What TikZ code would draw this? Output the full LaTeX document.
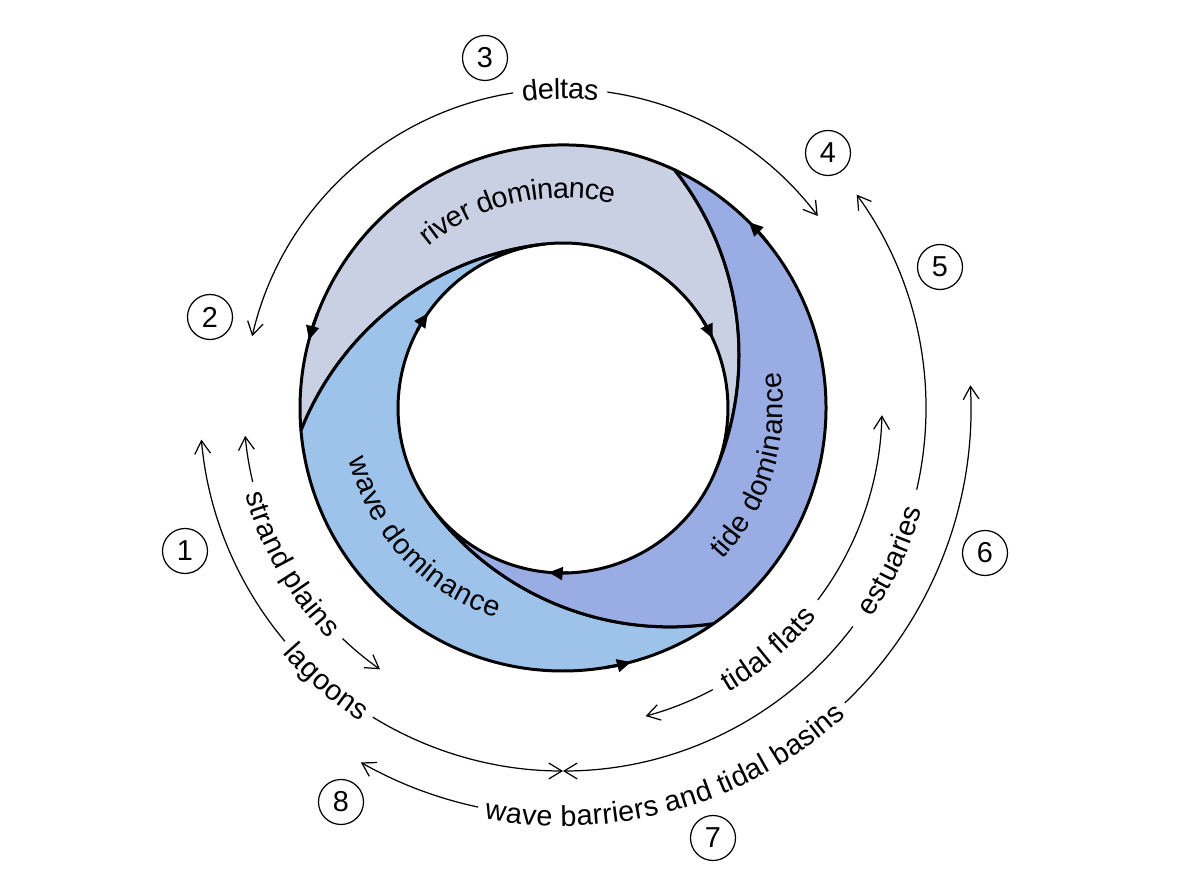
\documentclass[tikz,border=0pt]{standalone}
\usepackage{fontspec}
\setmainfont{Liberation Sans}
\usetikzlibrary{arrows.meta,decorations.text}
\newcommand{\lblfont}{\fontsize{8.2}{10}\selectfont}
\definecolor{river}{RGB}{201,208,228}
\definecolor{tide}{RGB}{153,172,227}
\definecolor{wave}{RGB}{157,195,235}

\begin{document}
\begin{tikzpicture}[>={Straight Barb[length=3.7pt,width=4.5pt]}]
    \tikzstyle{num} = [draw, circle, line width=0.35pt, minimum size=0.45cm, inner sep=0pt, font=\lblfont]
    \tikzstyle{band} = [draw, line width=0.85pt, line join=round]
    \tikzstyle{flow} = [line width=0.85pt, -{Triangle[length=4pt,width=3.6pt]}]
    \tikzstyle{span} = [line width=0.35pt]
    \tikzstyle{lbl} = [decorate, decoration={text along path, text align=center, raise=-1mm}]
    \useasboundingbox (-5.63,-4.82) rectangle (6.41,4.08);

    \filldraw[band, fill=river] (64.9:2.63) arc[start angle=64.9, end angle=184.9, radius=2.63]
        arc[start angle=158.4, end angle=96.5, radius=2.98]
        arc[start angle=96.5, end angle=-23.5, radius=1.65]
        arc[start angle=-23.5, end angle=38.4, radius=2.98] -- cycle;
    \filldraw[band, fill=wave] (184.9:2.63) arc[start angle=184.9, end angle=304.9, radius=2.63]
        arc[start angle=278.4, end angle=216.5, radius=2.98]
        arc[start angle=216.5, end angle=96.5, radius=1.65]
        arc[start angle=96.5, end angle=158.4, radius=2.98] -- cycle;
    \filldraw[band, fill=tide] (304.9:2.63) arc[start angle=304.9, end angle=424.9, radius=2.63]
        arc[start angle=38.4, end angle=-23.5, radius=2.98]
        arc[start angle=-23.5, end angle=-143.5, radius=1.65]
        arc[start angle=216.5, end angle=278.4, radius=2.98] -- cycle;

    \draw[flow] (159:2.63) arc[start angle=159, end angle=165, radius=2.63];
    \draw[flow] (279:2.63) arc[start angle=279, end angle=285, radius=2.63];
    \draw[flow] (39:2.63) arc[start angle=39, end angle=45, radius=2.63];
    \draw[flow] (32:1.65) arc[start angle=32, end angle=25, radius=1.65];
    \draw[flow] (152:1.65) arc[start angle=152, end angle=145, radius=1.65];
    \draw[flow] (272:1.65) arc[start angle=272, end angle=265, radius=1.65];

    \path[lbl, decoration={text={|\lblfont|river dominance}}] (143:2.2) arc[start angle=143, end angle=63, radius=2.2];
    \path[lbl, decoration={text={|\lblfont|tide dominance}}] (-57:2.1) arc[start angle=-57, end angle=23, radius=2.1];
    \path[lbl, decoration={text={|\lblfont|wave dominance}}] (183:2.1) arc[start angle=183, end angle=263, radius=2.1];

    \node[num] (1) at (-3.78,-1.43) {1};
    \node[num] (2) at (-3.53,0.91) {2};
    \node[num] (3) at (-0.78,3.50) {3};
    \node[num] (4) at (2.65,2.55) {4};
    \node[num] (5) at (3.77,1.41) {5};
    \node[num] (6) at (4.22,-1.45) {6};
    \node[num] (7) at (1.50,-4.30) {7};
    \node[num] (8) at (-2.22,-3.94) {8};

    \coordinate (d1) at (167:3.19);
    \coordinate (d2) at (82:3.19);
    \coordinate (s1) at (185:3.19);
    \coordinate (s2) at (226.3:3.19);
    \coordinate (f1) at (-37:3.19);
    \coordinate (f2) at (-62:3.19);
    \coordinate (l1) at (185:3.63);
    \coordinate (l2) at (238.4:3.63);
    \coordinate (e1) at (-13:3.63);
    \coordinate (e2) at (-37:3.63);
    \coordinate (w1) at (240.3:4.08);
    \coordinate (w2) at (313.7:4.08);

    \draw[span, <-] (d1) arc[start angle=167, end angle=99, radius=3.19];
    \draw[span, ->] (d2) arc[start angle=82, end angle=37, radius=3.19];
    \path[lbl, decoration={text={|\lblfont|deltas}}] (110.5:3.19) arc[start angle=110.5, end angle=70.5, radius=3.19];

    \draw[span, <-] (s1) arc[start angle=185, end angle=193.4, radius=3.19];
    \draw[span, ->] (s2) arc[start angle=226.3, end angle=235, radius=3.19];
    \path[lbl, decoration={text={|\lblfont|strand plains}}] (179.9:3.19) arc[start angle=179.9, end angle=239.9, radius=3.19];

    \draw[span, ->] (f1) arc[start angle=-37, end angle=-1.3, radius=3.19];
    \draw[span, ->] (f2) arc[start angle=-62, end angle=-75, radius=3.19];
    \path[lbl, decoration={text={|\lblfont|tidal flats}}] (-79.6:3.19) arc[start angle=-79.6, end angle=-19.6, radius=3.19];

    \draw[span, <-] (l1) arc[start angle=185, end angle=220, radius=3.63];
    \draw[span, ->] (l2) arc[start angle=238.4, end angle=270, radius=3.63];
    \path[lbl, decoration={text={|\lblfont|lagoons}}] (199.2:3.63) arc[start angle=199.2, end angle=259.2, radius=3.63];

    \draw[span, ->] (e1) arc[start angle=-13, end angle=36, radius=3.63];
    \draw[span, ->] (e2) arc[start angle=-37, end angle=-90, radius=3.63];
    \path[lbl, decoration={text={|\lblfont|estuaries}}] (-55:3.63) arc[start angle=-55, end angle=5, radius=3.63];

    \draw[span, <-] (w1) arc[start angle=240.3, end angle=258, radius=4.08];
    \draw[span, ->] (w2) arc[start angle=313.7, end angle=363.2, radius=4.08];
    \path[lbl, decoration={text={|\lblfont|wave barriers and tidal basins}}] (245.85:4.08) arc[start angle=245.85, end angle=325.85, radius=4.08];
\end{tikzpicture}
\end{document}
